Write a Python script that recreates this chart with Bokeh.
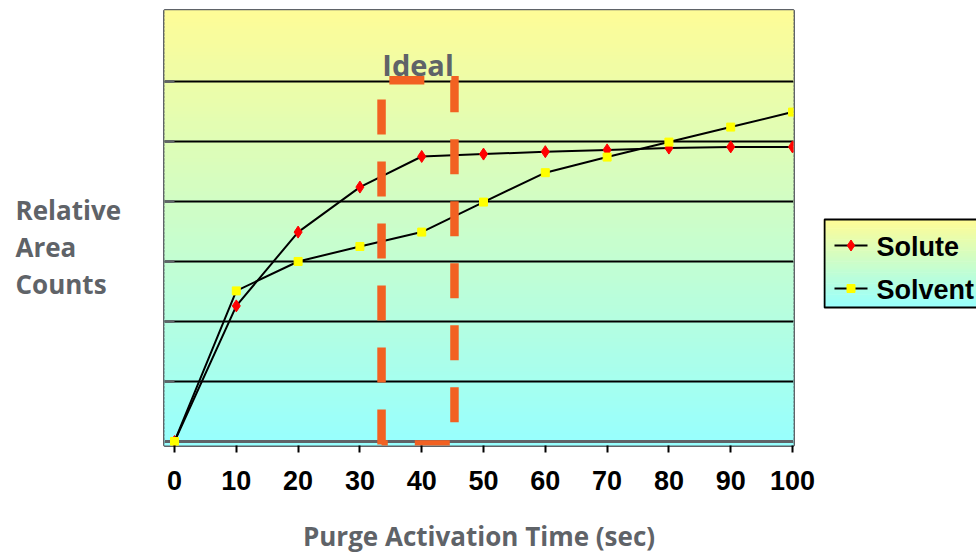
import numpy as np
from bokeh.plotting import figure
from bokeh.models import Range1d, FixedTicker, Span, Label
from bokeh.layouts import row
from bokeh.embed import file_html
from bokeh.resources import INLINE
from bokeh.core.properties import value

# ---------------- data ----------------
time_sec = [0, 10, 20, 30, 40, 50, 60, 70, 80, 90, 100]
solute = [0, 2.26, 3.49, 4.24, 4.75, 4.79, 4.83, 4.86, 4.89, 4.91, 4.91]
solvent = [0, 2.51, 3.00, 3.25, 3.49, 3.99, 4.48, 4.74, 4.99, 5.24, 5.49]
series_names = ["Solute", "Solvent"]
x_ticks = [0, 10, 20, 30, 40, 50, 60, 70, 80, 90, 100]
y_gridlines = [1, 2, 3, 4, 5, 6]
ideal_left, ideal_right = 33.5, 45.3
ideal_bottom, ideal_top = -0.05, 6.02
ideal_label = "Ideal"
y_title_lines = ["Relative", "Area", "Counts"]
x_title = "Purge Activation Time (sec)"

GRAY = "#5f6368"
ORANGE = "#f26122"
TITLE_FONT = "Open Sans"
TOP_RGB = np.array([255, 252, 150])
BOT_RGB = np.array([150, 255, 255])

FRAME_TOP, FRAME_BOTTOM_BORDER = 10, 111
FRAME_H = 556 - FRAME_TOP - FRAME_BOTTOM_BORDER


def grad_colors(n):
    cols = []
    for i in range(n):
        t = (i + 0.5) / n  # 0 bottom -> 1 top
        c = BOT_RGB + (TOP_RGB - BOT_RGB) * t
        cols.append("#%02x%02x%02x" % tuple(int(round(v)) for v in c))
    return cols


# ---------------- left panel: y title ----------------
left = figure(width=160, height=556, x_range=Range1d(0, 160), y_range=Range1d(FRAME_H, 0),
              output_backend="svg", toolbar_location=None, x_axis_type=None, y_axis_type=None,
              min_border_left=0, min_border_right=0, min_border_top=FRAME_TOP,
              min_border_bottom=FRAME_BOTTOM_BORDER)
left.outline_line_color = None
left.grid.visible = False
left.text(x=[15] * 3, y=[199.5, 236.5, 273.5], text=y_title_lines,
          text_font=value(TITLE_FONT), text_font_style="bold", text_font_size="26px",
          text_color=GRAY, text_align="left", text_baseline="alphabetic")

# ---------------- main chart ----------------
x0, x1 = -1.62, 100.16
y0, y1 = -0.067, 7.183
p = figure(width=660, height=556, x_range=Range1d(x0, x1), y_range=Range1d(y0, y1),
           output_backend="svg", toolbar_location=None,
           min_border_left=4, min_border_right=27, min_border_top=FRAME_TOP,
           min_border_bottom=FRAME_BOTTOM_BORDER)

n = 120
edges = np.linspace(y0 - 0.05, y1 + 0.05, n + 1)
p.quad(left=x0 - 5, right=x1 + 5, bottom=edges[:-1], top=edges[1:] + 0.02,
       fill_color=grad_colors(n), line_color=None, level="image")

p.outline_line_color = GRAY
p.outline_line_width = 3

p.xgrid.visible = False
p.ygrid.ticker = FixedTicker(ticks=y_gridlines)
p.ygrid.grid_line_color = "black"
p.ygrid.grid_line_width = 2
p.add_layout(Span(location=0, dimension="width", line_color=GRAY, line_width=3, level="underlay"))

# y axis hidden; short gray stubs left of x=0 on each gridline
p.yaxis.visible = False
p.segment(x0=[x0 - 1] * len(y_gridlines), x1=[0] * len(y_gridlines), y0=y_gridlines, y1=y_gridlines,
          line_color=GRAY, line_width=2.5)

# x axis
p.xaxis.ticker = FixedTicker(ticks=x_ticks)
p.xaxis.axis_line_color = None
p.xaxis.major_tick_line_color = "black"
p.xaxis.major_tick_line_width = 2
p.xaxis.major_tick_in = 0
p.xaxis.major_tick_out = 7
p.xaxis.minor_tick_line_color = None
p.xaxis.major_label_text_font = "Liberation Sans"
p.xaxis.major_label_text_font_style = "bold"
p.xaxis.major_label_text_font_size = "27px"
p.xaxis.major_label_text_color = "black"
p.xaxis.major_label_standoff = 18
p.xaxis.axis_label = x_title
p.xaxis.axis_label_text_font = TITLE_FONT
p.xaxis.axis_label_text_font_style = "bold"
p.xaxis.axis_label_text_font_size = "26px"
p.xaxis.axis_label_text_color = GRAY
p.xaxis.axis_label_standoff = 25

# series
p.line(time_sec, solute, line_color="black", line_width=2)
p.scatter(time_sec, solute, marker="diamond", size=12, fill_color="red", line_color="red")
p.line(time_sec, solvent, line_color="black", line_width=2)
p.scatter(time_sec, solvent, marker="square", size=8, fill_color="#ffff00", line_color="#ffff00")

# ideal window (dashed rectangle)
p.line(x=[ideal_left, ideal_left, ideal_right, ideal_right, ideal_left],
       y=[ideal_bottom, ideal_top, ideal_top, ideal_bottom, ideal_bottom],
       line_color=ORANGE, line_width=8.5, line_dash="35 27", line_cap="butt", line_join="miter")

p.add_layout(Label(x=(ideal_left + ideal_right) / 2, y=6.283, text=ideal_label,
                   text_align="center", text_baseline="alphabetic",
                   text_font=TITLE_FONT, text_font_style="bold", text_font_size="29px",
                   text_color=GRAY))

# ---------------- legend panel ----------------
lg = figure(width=156, height=556, x_range=Range1d(0, 153), y_range=Range1d(FRAME_H, 0),
            output_backend="svg", toolbar_location=None, x_axis_type=None, y_axis_type=None,
            min_border_left=3, min_border_right=0, min_border_top=FRAME_TOP,
            min_border_bottom=FRAME_BOTTOM_BORDER)
lg.outline_line_color = None
lg.grid.visible = False
box_top, box_bot = 209, 297
m = 40
le = np.linspace(box_bot, box_top, m + 1)
lg.quad(left=0, right=160, bottom=le[:-1] + 0.5, top=le[1:], fill_color=grad_colors(m),
        line_color=None)
lg.line(x=[200, 1, 1, 200], y=[box_top, box_top, box_bot, box_bot], line_color="black", line_width=2)

legend_rows = [box_top + 26, box_top + 69]
markers = [("diamond", 11, "red"), ("square", 8, "#ffff00")]
for name, yc, (mk, sz, col) in zip(series_names, legend_rows, markers):
    lg.line(x=[11, 44], y=[yc, yc], line_color="black", line_width=2)
    lg.scatter(x=[27.5], y=[yc], marker=mk, size=sz, fill_color=col, line_color=col)
    lg.text(x=[53], y=[yc + 1], text=[name], text_font=value("Liberation Sans"),
            text_font_style="bold", text_font_size="27px", text_baseline="middle",
            text_align="left", text_color="black")

layout = row(left, p, lg)
open("out.html", "w").write(file_html(layout, INLINE))
